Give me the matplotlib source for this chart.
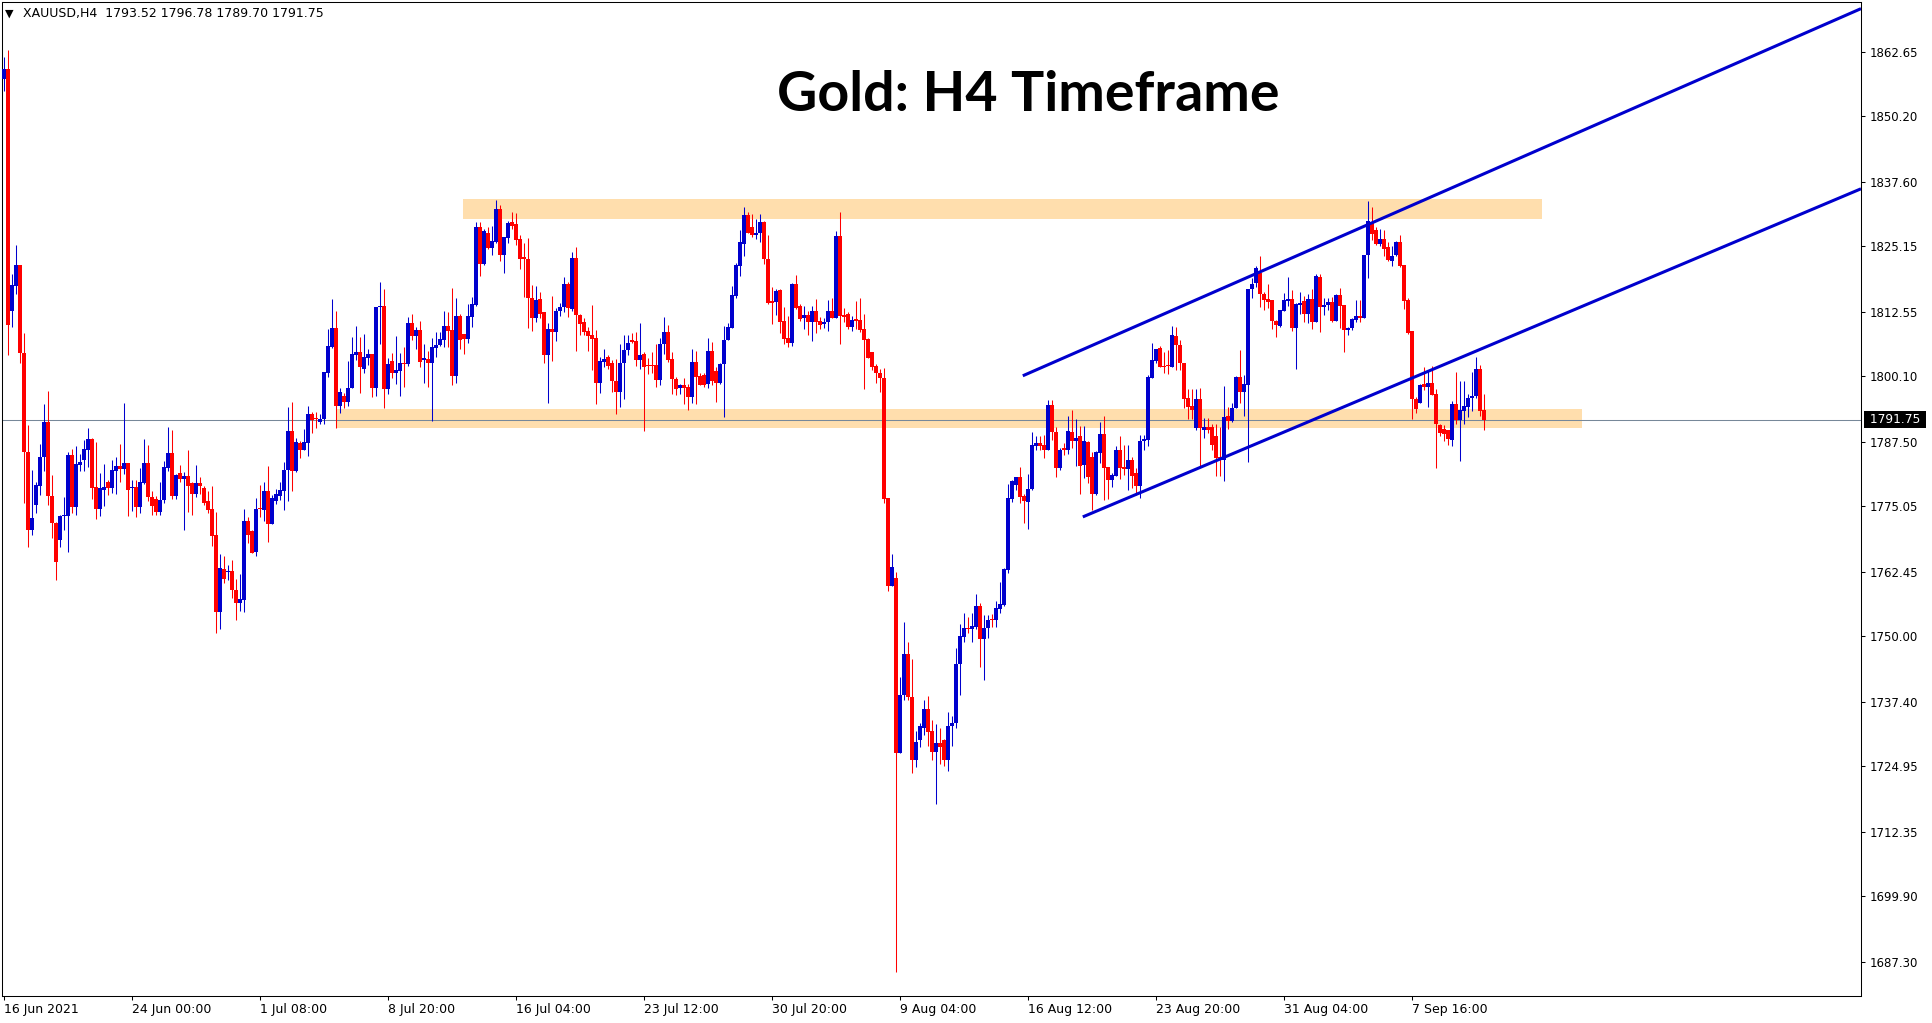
"""
Gold (XAUUSD) H4 candlestick chart, MT4 style:
support / resistance zones, last-price line and an ascending channel.
"""

import matplotlib
matplotlib.use('Agg')
import matplotlib.pyplot as plt
import matplotlib.transforms as mtransforms
from matplotlib.patches import Rectangle


# =========================
# DATA (H4 bars, oldest first)
# =========================
opens = [
    1857.5, 1859.4, 1812.7, 1817.6, 1821.5, 1804.6, 1785.5, 1770.5, 1775.3, 1779.0,
    1784.5, 1791.2, 1777.1, 1771.9, 1768.6, 1773.2, 1773.1, 1784.9, 1774.9, 1783.0,
    1783.9, 1785.8, 1788.0, 1778.7, 1774.5, 1778.2, 1779.7, 1778.6, 1781.9, 1782.8,
    1782.3, 1783.4, 1778.5, 1778.8, 1774.9, 1779.5, 1783.4, 1776.8, 1776.4, 1774.0,
    1776.2, 1782.4, 1785.4, 1777.0, 1781.4, 1780.4, 1780.9, 1779.5, 1777.5, 1779.6,
    1778.6, 1776.0, 1774.5, 1769.5, 1754.6, 1763.0, 1762.3, 1762.6, 1759.0, 1756.4,
    1757.0, 1772.3, 1770.2, 1766.3, 1774.8, 1774.3, 1777.9, 1771.6, 1776.1, 1777.1,
    1777.9, 1782.0, 1789.6, 1781.9, 1787.3, 1785.8, 1787.3, 1792.8, 1791.9, 1791.2,
    1791.8, 1800.7, 1805.7, 1809.5, 1794.3, 1796.4, 1795.2, 1797.9, 1804.2, 1804.7,
    1801.5, 1803.6, 1804.4, 1797.9, 1813.5, 1813.7, 1797.6, 1803.0, 1800.7, 1801.1,
    1802.5, 1802.4, 1810.4, 1807.9, 1809.0, 1803.2, 1803.4, 1802.6, 1805.6, 1806.1,
    1807.1, 1809.8, 1809.0, 1800.2, 1811.7, 1808.2, 1807.3, 1811.6, 1813.8, 1828.8,
    1821.7, 1827.7, 1824.9, 1825.9, 1832.3, 1823.4, 1826.8, 1829.8, 1829.4, 1826.6,
    1822.9, 1822.8, 1815.2, 1811.3, 1815.0, 1812.4, 1804.2, 1809.2, 1808.7, 1812.6,
    1813.4, 1817.9, 1813.1, 1823.0, 1811.9, 1810.5, 1808.8, 1808.1, 1807.5, 1798.9,
    1802.8, 1803.9, 1802.6, 1799.1, 1797.1, 1802.7, 1805.1, 1807.1, 1806.9, 1803.2,
    1804.4, 1802.3, 1802.3, 1802.3, 1799.3, 1806.4, 1808.6, 1803.4, 1799.6, 1797.9,
    1798.4, 1798.1, 1796.2, 1802.9, 1800.2, 1800.3, 1798.6, 1805.0, 1801.1, 1798.9,
    1802.5, 1807.1, 1809.5, 1815.6, 1821.4, 1825.6, 1831.2, 1828.9, 1827.3, 1827.7,
    1829.9, 1822.8, 1814.5, 1814.5, 1816.7, 1810.8, 1807.5, 1806.6, 1817.9, 1813.7,
    1811.3, 1811.9, 1810.6, 1812.7, 1810.8, 1810.2, 1810.5, 1812.6, 1811.3, 1827.2,
    1811.9, 1812.1, 1809.7, 1811.2, 1811.0, 1809.2, 1807.2, 1804.7, 1802.0, 1800.8,
    1799.8, 1776.7, 1759.7, 1761.3, 1727.4, 1738.6, 1746.6, 1738.2, 1726.1, 1729.9,
    1732.4, 1736.0, 1731.8, 1727.6, 1729.5, 1729.9, 1726.2, 1732.6, 1733.2, 1744.6,
    1749.8, 1751.6, 1751.4, 1751.8, 1755.9, 1749.4, 1751.5, 1753.3, 1753.2, 1755.3,
    1756.0, 1762.8, 1776.5, 1779.2, 1780.6, 1777.1, 1775.9, 1778.3, 1786.6, 1787.3,
    1786.9, 1785.9, 1794.6, 1789.4, 1782.5, 1786.3, 1785.9, 1789.4, 1787.7, 1788.5,
    1783.0, 1787.5, 1784.6, 1777.4, 1785.3, 1789.0, 1782.7, 1780.1, 1780.9, 1785.9,
    1782.7, 1782.2, 1784.0, 1781.4, 1779.0, 1787.6, 1787.9, 1799.8, 1803.1, 1805.6,
    1802.1, 1802.3, 1801.9, 1807.9, 1806.1, 1802.7, 1795.9, 1794.4, 1790.1, 1795.7,
    1789.7, 1790.3, 1790.3, 1788.6, 1784.6, 1784.0, 1792.4, 1791.4, 1793.9, 1800.0,
    1797.1, 1798.5, 1816.9, 1818.1, 1820.1, 1816.0, 1815.0, 1814.8, 1810.8, 1809.8,
    1812.6, 1814.7, 1815.0, 1809.5, 1813.8, 1814.7, 1812.1, 1815.0, 1810.6, 1819.2,
    1813.4, 1813.8, 1814.4, 1810.8, 1815.8, 1813.8, 1809.0, 1809.5, 1811.0, 1811.7,
    1811.4, 1823.4, 1829.6, 1828.3, 1825.6, 1826.6, 1825.0, 1822.3, 1823.4, 1826.0,
    1821.5, 1814.8, 1808.8, 1795.8, 1794.9, 1798.6, 1798.1, 1798.9, 1796.7, 1790.8,
    1789.9, 1789.7, 1787.8, 1794.7, 1791.7, 1793.5, 1794.2, 1795.9, 1796.3, 1801.6,
    1793.52,
]

highs = [
    1861.6, 1863.0, 1819.8, 1825.4, 1821.5, 1808.5, 1790.8, 1782.1, 1779.7, 1787.1,
    1794.8, 1797.3, 1781.0, 1772.0, 1773.4, 1776.9, 1785.6, 1786.0, 1786.7, 1785.2,
    1787.8, 1790.2, 1788.2, 1787.5, 1781.4, 1783.2, 1780.1, 1783.9, 1784.5, 1787.1,
    1795.0, 1783.4, 1780.1, 1780.1, 1782.4, 1788.0, 1786.9, 1777.9, 1777.1, 1779.7,
    1783.8, 1790.4, 1789.8, 1781.2, 1783.0, 1781.7, 1785.8, 1779.7, 1783.0, 1780.7,
    1779.0, 1777.9, 1779.0, 1773.9, 1765.9, 1765.5, 1763.7, 1764.7, 1761.0, 1762.0,
    1774.5, 1772.9, 1770.5, 1776.6, 1779.2, 1779.8, 1782.8, 1777.2, 1778.3, 1779.8,
    1783.6, 1794.1, 1795.1, 1788.2, 1787.6, 1789.9, 1794.4, 1793.3, 1793.3, 1792.8,
    1801.0, 1809.2, 1815.0, 1812.6, 1797.8, 1796.8, 1803.1, 1807.7, 1809.8, 1807.7,
    1808.3, 1805.4, 1804.4, 1813.5, 1818.3, 1816.9, 1803.7, 1804.5, 1807.9, 1804.5,
    1805.7, 1811.5, 1812.2, 1809.7, 1810.7, 1806.3, 1805.0, 1807.5, 1808.7, 1808.7,
    1812.7, 1812.4, 1817.2, 1815.2, 1812.2, 1808.2, 1814.0, 1815.3, 1829.9, 1829.9,
    1828.4, 1828.8, 1829.1, 1834.1, 1833.1, 1827.0, 1830.1, 1831.8, 1831.5, 1827.3,
    1825.7, 1826.7, 1817.7, 1817.5, 1816.4, 1812.4, 1810.3, 1815.6, 1813.3, 1814.2,
    1819.2, 1818.2, 1824.1, 1825.1, 1812.1, 1811.3, 1809.7, 1813.8, 1809.0, 1803.9,
    1805.3, 1804.2, 1803.2, 1803.4, 1806.3, 1808.0, 1808.0, 1808.5, 1808.7, 1810.4,
    1804.7, 1803.6, 1804.8, 1806.4, 1807.4, 1811.6, 1810.0, 1804.7, 1800.0, 1798.7,
    1799.8, 1798.7, 1805.3, 1805.0, 1800.7, 1800.7, 1807.4, 1806.8, 1801.8, 1802.7,
    1809.8, 1810.4, 1817.5, 1822.0, 1828.3, 1832.8, 1831.8, 1831.4, 1830.4, 1831.4,
    1830.0, 1827.3, 1817.4, 1816.9, 1816.9, 1813.5, 1811.7, 1818.0, 1819.6, 1814.0,
    1813.7, 1812.7, 1813.7, 1815.0, 1811.6, 1811.4, 1814.8, 1815.1, 1828.2, 1831.8,
    1813.2, 1812.4, 1811.7, 1814.6, 1815.1, 1812.1, 1807.4, 1804.8, 1802.5, 1801.5,
    1801.7, 1776.7, 1765.8, 1762.4, 1742.1, 1752.8, 1748.9, 1745.7, 1731.8, 1733.3,
    1737.8, 1738.4, 1733.9, 1733.0, 1732.3, 1730.1, 1735.3, 1734.7, 1747.7, 1752.3,
    1754.5, 1753.7, 1754.5, 1758.2, 1756.4, 1754.1, 1754.1, 1754.3, 1756.8, 1760.5,
    1763.1, 1779.4, 1780.2, 1780.6, 1782.6, 1777.5, 1781.3, 1789.4, 1788.6, 1788.6,
    1788.8, 1795.5, 1795.5, 1790.4, 1786.2, 1787.2, 1792.5, 1793.7, 1791.8, 1790.5,
    1790.5, 1787.6, 1785.6, 1785.7, 1791.2, 1792.5, 1782.7, 1781.4, 1786.7, 1788.5,
    1786.9, 1786.9, 1784.6, 1782.4, 1788.8, 1788.8, 1800.3, 1806.5, 1805.4, 1805.9,
    1804.8, 1805.2, 1809.8, 1809.7, 1807.1, 1802.7, 1797.6, 1797.6, 1797.6, 1797.8,
    1792.0, 1792.1, 1791.0, 1791.0, 1790.4, 1798.3, 1794.1, 1795.0, 1800.2, 1805.2,
    1800.3, 1816.9, 1819.0, 1821.4, 1823.3, 1816.4, 1817.8, 1814.9, 1811.0, 1812.9,
    1816.1, 1819.2, 1816.7, 1814.2, 1816.3, 1815.6, 1815.9, 1817.0, 1819.9, 1819.9,
    1815.1, 1815.1, 1815.3, 1816.0, 1817.1, 1813.8, 1809.7, 1811.3, 1814.8, 1814.8,
    1823.5, 1833.9, 1832.8, 1828.8, 1828.4, 1828.3, 1825.9, 1825.2, 1826.1, 1827.3,
    1821.6, 1815.1, 1808.8, 1796.2, 1798.7, 1801.9, 1801.1, 1802.1, 1797.6, 1791.0,
    1790.7, 1789.7, 1795.4, 1800.9, 1799.1, 1799.2, 1796.6, 1801.0, 1803.9, 1802.3,
    1796.78,
]

lows = [
    1855.0, 1804.3, 1809.6, 1815.9, 1802.7, 1775.7, 1767.2, 1769.5, 1773.8, 1777.3,
    1781.9, 1775.3, 1769.0, 1760.9, 1767.2, 1770.5, 1766.3, 1773.7, 1773.4, 1781.9,
    1781.9, 1782.7, 1776.4, 1772.6, 1773.1, 1775.1, 1777.3, 1777.6, 1777.5, 1779.7,
    1781.3, 1773.2, 1774.2, 1772.9, 1773.8, 1779.3, 1776.0, 1773.4, 1773.4, 1773.4,
    1775.6, 1781.9, 1776.4, 1776.4, 1779.7, 1770.5, 1773.9, 1773.4, 1776.8, 1777.5,
    1775.3, 1773.8, 1767.4, 1750.7, 1751.3, 1760.2, 1760.8, 1757.3, 1753.1, 1754.9,
    1754.7, 1768.0, 1766.0, 1765.5, 1773.0, 1772.3, 1768.2, 1771.6, 1775.5, 1776.3,
    1774.3, 1776.0, 1777.9, 1781.7, 1784.4, 1785.8, 1784.7, 1789.1, 1790.1, 1790.9,
    1791.0, 1800.0, 1805.5, 1790.1, 1793.0, 1793.9, 1794.3, 1797.9, 1803.2, 1796.9,
    1800.7, 1802.3, 1796.2, 1796.4, 1806.3, 1793.9, 1796.7, 1799.7, 1798.7, 1796.3,
    1798.1, 1802.0, 1807.1, 1805.4, 1801.8, 1798.9, 1798.1, 1791.5, 1803.9, 1806.0,
    1805.8, 1805.8, 1798.4, 1798.9, 1805.3, 1804.4, 1806.6, 1809.7, 1813.7, 1819.4,
    1821.6, 1824.6, 1823.5, 1825.7, 1822.3, 1820.1, 1825.7, 1828.4, 1825.5, 1820.8,
    1815.3, 1809.5, 1808.9, 1810.6, 1811.4, 1802.6, 1794.9, 1803.1, 1806.9, 1811.7,
    1812.4, 1811.6, 1812.7, 1805.0, 1808.1, 1808.1, 1805.0, 1801.3, 1794.7, 1796.8,
    1801.9, 1801.5, 1797.1, 1792.8, 1794.1, 1795.8, 1804.2, 1806.6, 1802.1, 1801.5,
    1789.6, 1800.5, 1800.7, 1798.1, 1798.5, 1804.4, 1802.9, 1796.6, 1796.5, 1796.6,
    1794.7, 1793.7, 1794.9, 1794.7, 1798.4, 1798.1, 1797.9, 1798.4, 1795.2, 1798.7,
    1792.2, 1807.1, 1809.5, 1815.1, 1819.4, 1823.3, 1827.7, 1827.0, 1826.6, 1825.9,
    1821.7, 1814.0, 1810.2, 1812.0, 1808.5, 1806.3, 1805.8, 1806.0, 1813.0, 1810.8,
    1809.2, 1808.1, 1807.0, 1808.5, 1809.3, 1809.5, 1808.9, 1811.3, 1811.3, 1806.3,
    1810.6, 1809.3, 1808.9, 1809.3, 1808.6, 1797.6, 1803.6, 1801.3, 1798.9, 1797.1,
    1775.7, 1758.7, 1759.7, 1685.2, 1727.4, 1737.7, 1737.8, 1723.7, 1724.7, 1728.7,
    1730.9, 1728.9, 1726.2, 1717.7, 1725.4, 1725.0, 1724.1, 1728.9, 1732.4, 1738.6,
    1748.8, 1750.6, 1748.8, 1751.4, 1744.0, 1741.5, 1749.6, 1751.8, 1751.8, 1754.5,
    1755.9, 1762.2, 1775.8, 1778.1, 1775.6, 1771.9, 1770.7, 1778.2, 1785.8, 1785.9,
    1784.4, 1785.9, 1787.8, 1780.6, 1782.0, 1784.9, 1785.1, 1786.3, 1782.8, 1777.4,
    1780.5, 1779.5, 1774.3, 1777.2, 1783.3, 1776.3, 1776.5, 1778.7, 1780.8, 1780.4,
    1781.1, 1778.2, 1778.5, 1777.2, 1776.6, 1785.9, 1786.7, 1799.7, 1802.6, 1801.9,
    1800.7, 1800.5, 1801.9, 1801.3, 1801.3, 1793.9, 1791.8, 1791.8, 1789.7, 1782.7,
    1788.3, 1789.1, 1785.9, 1780.8, 1780.8, 1780.0, 1789.9, 1791.2, 1793.9, 1794.9,
    1792.4, 1783.6, 1815.2, 1817.4, 1813.4, 1812.9, 1813.2, 1809.3, 1807.7, 1809.7,
    1812.6, 1813.7, 1808.9, 1801.5, 1812.1, 1810.6, 1810.3, 1809.3, 1810.6, 1808.7,
    1811.9, 1812.9, 1810.6, 1810.8, 1809.5, 1804.8, 1808.1, 1809.0, 1810.6, 1810.6,
    1811.3, 1819.1, 1826.4, 1825.4, 1825.2, 1823.2, 1822.3, 1821.4, 1823.3, 1821.2,
    1813.1, 1808.3, 1791.8, 1793.1, 1794.9, 1797.4, 1794.2, 1796.5, 1782.4, 1788.6,
    1787.7, 1786.9, 1786.7, 1791.0, 1783.8, 1790.9, 1792.3, 1793.4, 1796.0, 1792.4,
    1789.70,
]

closes = [
    1859.4, 1810.0, 1817.7, 1821.5, 1804.6, 1785.5, 1770.5, 1772.7, 1779.1, 1784.5,
    1791.2, 1777.1, 1771.8, 1764.4, 1773.1, 1773.3, 1784.9, 1774.9, 1783.2, 1783.5,
    1786.1, 1788.0, 1778.6, 1774.5, 1778.5, 1778.8, 1778.6, 1782.1, 1782.9, 1782.3,
    1783.4, 1778.2, 1778.8, 1774.9, 1779.7, 1783.4, 1776.8, 1775.1, 1774.0, 1776.2,
    1782.7, 1785.4, 1777.0, 1781.0, 1780.4, 1780.8, 1778.9, 1777.5, 1779.5, 1779.0,
    1775.7, 1774.3, 1769.4, 1754.6, 1763.1, 1761.0, 1762.6, 1758.9, 1756.4, 1757.2,
    1772.3, 1769.5, 1766.1, 1774.5, 1774.5, 1777.9, 1771.6, 1776.7, 1777.4, 1778.1,
    1782.0, 1789.6, 1781.9, 1787.5, 1785.8, 1787.5, 1792.8, 1791.7, 1791.8, 1791.9,
    1801.0, 1806.0, 1809.5, 1794.3, 1797.1, 1795.2, 1797.9, 1804.4, 1804.7, 1801.8,
    1803.8, 1804.4, 1797.9, 1813.5, 1813.7, 1797.6, 1802.4, 1800.7, 1801.3, 1802.7,
    1802.4, 1810.4, 1807.9, 1809.0, 1802.9, 1803.6, 1802.7, 1805.8, 1806.1, 1807.3,
    1809.8, 1808.9, 1800.2, 1811.7, 1807.1, 1807.3, 1811.7, 1814.0, 1828.8, 1821.7,
    1828.2, 1824.8, 1826.2, 1832.3, 1823.4, 1827.0, 1829.6, 1829.1, 1826.4, 1822.7,
    1822.8, 1815.2, 1811.3, 1814.9, 1812.2, 1804.2, 1809.2, 1808.6, 1812.7, 1813.5,
    1817.8, 1813.2, 1823.0, 1812.0, 1810.2, 1808.7, 1807.9, 1807.3, 1798.9, 1803.0,
    1803.4, 1802.1, 1799.1, 1797.1, 1802.7, 1805.2, 1806.6, 1806.8, 1803.2, 1804.3,
    1801.9, 1802.1, 1802.1, 1799.3, 1806.4, 1808.6, 1803.2, 1799.5, 1797.6, 1798.4,
    1797.9, 1796.2, 1802.9, 1800.0, 1798.5, 1798.5, 1805.0, 1799.2, 1798.9, 1802.5,
    1807.1, 1809.7, 1815.8, 1821.6, 1825.9, 1831.2, 1827.8, 1827.3, 1827.8, 1829.9,
    1822.7, 1814.2, 1814.3, 1816.5, 1810.6, 1807.3, 1806.6, 1817.9, 1813.2, 1811.1,
    1811.9, 1810.6, 1812.7, 1810.6, 1810.0, 1810.5, 1812.6, 1811.3, 1827.2, 1811.7,
    1811.6, 1809.7, 1811.0, 1810.8, 1809.1, 1807.1, 1803.7, 1801.8, 1800.7, 1799.7,
    1776.5, 1759.7, 1763.4, 1727.4, 1738.6, 1746.6, 1738.2, 1726.1, 1729.7, 1732.6,
    1736.0, 1731.6, 1727.6, 1729.5, 1728.7, 1726.2, 1732.6, 1733.3, 1744.6, 1750.0,
    1751.6, 1751.4, 1751.9, 1755.9, 1749.4, 1751.5, 1753.1, 1753.1, 1755.5, 1756.2,
    1763.0, 1776.7, 1780.0, 1780.6, 1776.9, 1776.0, 1778.3, 1786.9, 1787.3, 1786.7,
    1785.9, 1794.6, 1789.4, 1782.5, 1785.9, 1785.9, 1789.6, 1787.7, 1788.3, 1782.9,
    1787.6, 1780.6, 1777.4, 1785.6, 1789.0, 1782.5, 1780.1, 1781.1, 1785.9, 1782.5,
    1782.2, 1784.0, 1780.9, 1779.0, 1787.6, 1788.1, 1800.0, 1803.2, 1805.4, 1801.9,
    1801.9, 1802.1, 1808.1, 1806.1, 1802.7, 1795.7, 1794.1, 1793.6, 1795.7, 1790.1,
    1790.4, 1789.8, 1786.9, 1784.4, 1784.3, 1792.3, 1791.5, 1794.0, 1800.0, 1797.1,
    1798.7, 1816.9, 1817.8, 1820.9, 1816.0, 1814.8, 1814.5, 1810.8, 1810.0, 1812.8,
    1814.8, 1815.0, 1809.5, 1814.0, 1814.3, 1812.2, 1815.0, 1810.6, 1819.4, 1813.4,
    1813.8, 1814.4, 1810.8, 1815.8, 1813.7, 1809.0, 1809.5, 1811.1, 1811.7, 1811.3,
    1823.5, 1830.1, 1827.5, 1825.6, 1826.6, 1824.6, 1822.5, 1823.3, 1826.0, 1821.4,
    1814.6, 1808.5, 1795.7, 1793.8, 1798.4, 1798.1, 1798.9, 1796.5, 1791.0, 1789.2,
    1789.0, 1788.0, 1794.7, 1791.7, 1793.6, 1794.4, 1796.0, 1796.4, 1801.6, 1793.5,
    1791.75,
]

# time labels (bar index -> label)
date_ticks = [0, 32, 64, 96, 128, 160, 192, 224, 256, 288, 320, 352]
date_labels = ['16 Jun 2021', '24 Jun 00:00', '1 Jul 08:00', '8 Jul 20:00',
               '16 Jul 04:00', '23 Jul 12:00', '30 Jul 20:00', '9 Aug 04:00',
               '16 Aug 12:00', '23 Aug 20:00', '31 Aug 04:00', '7 Sep 16:00']

price_ticks = [1862.65, 1850.20, 1837.60, 1825.15, 1812.55, 1800.10, 1787.50,
               1775.05, 1762.45, 1750.00, 1737.40, 1724.95, 1712.35, 1699.90, 1687.30]

last_price = 1791.75

# zones: (first bar, last bar, low price, high price)
resistance_zone = (114.8, 384.5, 1830.4, 1834.3)
support_zone = (83.2, 394.4, 1790.2, 1793.8)

# channel rays: two anchors (bar, price), extended to the right edge
channel_top = [(254.7, 1800.2), (360.7, 1836.0)]
channel_bottom = [(269.7, 1773.0), (372.75, 1806.5)]


# =========================
# STYLE
# =========================
W, H = 1933, 1023
BULL = '#0000CD'
BEAR = '#FF0000'
ZONE = '#FFDEAD'
LINE_BLUE = '#0000CD'
XLIM = (-0.5, 464.25)
YLIM = (1680.65, 1872.25)


def draw_candles(ax):
    x = list(range(len(closes)))
    colors = [BULL if c > o else BEAR for o, c in zip(opens, closes)]
    ax.vlines(x, lows, highs, colors=colors, linewidth=0.75, zorder=3)
    bottoms = [min(o, c) for o, c in zip(opens, closes)]
    heights = [max(abs(c - o), 0.22) for o, c in zip(opens, closes)]
    ax.bar(x, heights, bottom=bottoms, width=0.76, color=colors,
           linewidth=0, zorder=3)


def draw_ray(ax, anchors):
    (x1, y1), (x2, y2) = anchors
    slope = (y2 - y1) / (x2 - x1)
    x_end = XLIM[1]
    ax.plot([x1, x_end], [y1, y1 + slope * (x_end - x1)], color=LINE_BLUE,
            linewidth=2.2, solid_capstyle='butt', zorder=4)


def main():
    fig = plt.figure(figsize=(W / 100, H / 100), dpi=100)
    fig.patch.set_facecolor('white')
    ax = fig.add_axes([2 / W, 27 / H, (1861 - 2) / W, (1021 - 27) / H])

    for x0, x1, lo, hi in (resistance_zone, support_zone):
        ax.add_patch(Rectangle((x0, lo), x1 - x0, hi - lo, facecolor=ZONE,
                               edgecolor='none', zorder=1))
    ax.axhline(last_price, color='#778899', linewidth=0.75, zorder=2)

    draw_candles(ax)
    draw_ray(ax, channel_top)
    draw_ray(ax, channel_bottom)

    ax.set_xlim(*XLIM)
    ax.set_ylim(*YLIM)

    # price axis on the right
    ax.yaxis.tick_right()
    ax.set_yticks(price_ticks, [f'{p:.2f}' for p in price_ticks])
    ax.tick_params(axis='y', direction='out', length=3, width=0.75, pad=3,
                   labelsize=8.5, colors='black')

    # time axis
    ax.set_xticks(date_ticks, date_labels)
    ax.tick_params(axis='x', direction='out', length=3, width=0.75, pad=2,
                   labelsize=9, colors='black')
    for lbl in ax.get_xticklabels():
        lbl.set_horizontalalignment('left')

    for sp in ax.spines.values():
        sp.set_color('black')
        sp.set_linewidth(0.75)

    # last price box on the price axis
    trans = mtransforms.blended_transform_factory(ax.transAxes, ax.transData)
    trans = mtransforms.offset_copy(trans, fig=fig, x=3.5, y=0, units='points')
    ax.text(1.0, last_price, f' {last_price:.2f} ', transform=trans, ha='left',
            va='center', color='white', fontsize=8.8, clip_on=False,
            bbox=dict(boxstyle='square,pad=0.15', facecolor='black', edgecolor='none'))

    # header and title
    fig.text(5 / W, 1 - 17 / H, '\u25bc', fontsize=8, va='baseline')
    header = (f'XAUUSD,H4  {opens[-1]:.2f} {highs[-1]:.2f} '
              f'{lows[-1]:.2f} {closes[-1]:.2f}')
    fig.text(23 / W, 1 - 17 / H, header, fontsize=9, va='baseline')
    fig.text(1028 / W, 1 - 111 / H, 'Gold: H4 Timeframe', fontsize=40,
             fontweight='bold', family=['Lato', 'DejaVu Sans'],
             ha='center', va='baseline')

    fig.savefig('out.png', dpi=100)


if __name__ == '__main__':
    main()
